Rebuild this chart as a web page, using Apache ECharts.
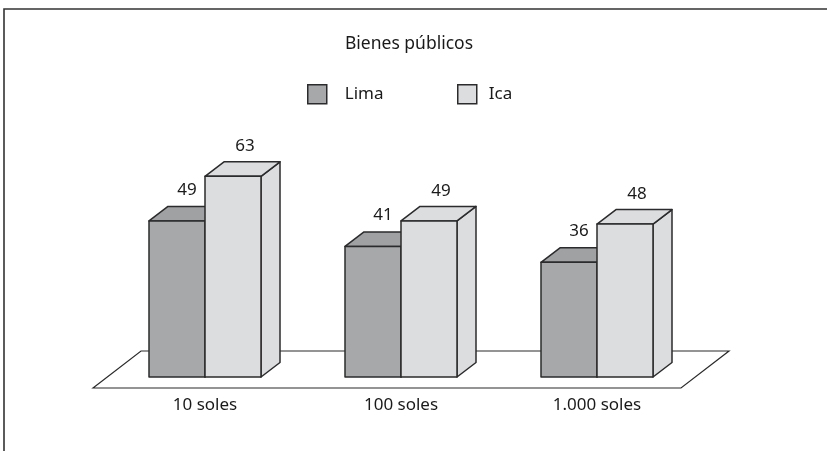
<!DOCTYPE html>
<html>
<head>
<meta charset="utf-8">
<style>
  html, body { margin: 0; padding: 0; background: #fff; }
  #main { width: 827px; height: 451px; }
</style>
<script src="https://cdn.jsdelivr.net/npm/echarts@6/dist/echarts.min.js"></script>
</head>
<body>
<div id="main"></div>
<script>
const categories = ['10 soles', '100 soles', '1.000 soles']
const lima = [49, 41, 36]
const ica = [63, 49, 48]

const FONT = '"Noto Sans", sans-serif'
const TEXT = '#1a1a1a'
const LINE = '#2b2b2d'
const DX = 19 // profundidad del falso 3D
const DY = 14.5
const BAR_RATIO = 56 / 196

function box(front, top, side, labelDx, labelDy, shift) {
  return function(params, api) {
    const c = api.coord([api.value(0), api.value(1)])
    const base = api.coord([api.value(0), 0])
    const w = api.size([1, 0])[0] * BAR_RATIO
    const x0 = c[0] + shift * w
    const x1 = x0 + w
    const y0 = c[1]
    const y1 = base[1]
    const stroke = { stroke: LINE, lineWidth: 1.5, lineJoin: 'round' }
    return {
      type: 'group',
      children: [
        { type: 'polygon', shape: { points: [[x1, y0], [x1 + DX, y0 - DY], [x1 + DX, y1 - DY], [x1, y1]] }, style: { fill: side, ...stroke } },
        { type: 'polygon', shape: { points: [[x0, y0], [x0 + DX, y0 - DY], [x1 + DX, y0 - DY], [x1, y0]] }, style: { fill: top, ...stroke } },
        { type: 'rect', shape: { x: x0, y: y0, width: w, height: y1 - y0 }, style: { fill: front, ...stroke } },
        { type: 'text', x: x0 + w / 2 + labelDx, y: y0 - labelDy, style: { text: String(api.value(1)), fill: TEXT, font: '17px ' + FONT, align: 'center', verticalAlign: 'middle' } }
      ]
    }
  }
}

function floor(params) {
  const g = params.coordSys
  const y = g.y + g.height
  const left = g.x - 14
  const right = g.x + g.width - 14
  return {
    type: 'polygon',
    shape: { points: [[left, y + 11], [left + 48, y - 26], [right + 48, y - 26], [right, y + 11]] },
    style: { fill: '#fff', stroke: LINE, lineWidth: 1.2 }
  }
}

const legendText = { color: TEXT, fontFamily: FONT, fontSize: 17 }
const legendBase = {
  top: 84, itemWidth: 19, itemHeight: 19, padding: 0, icon: 'rect',
  itemStyle: { borderColor: LINE, borderWidth: 1.5 }
}

const chart = echarts.init(document.getElementById('main'))
chart.setOption({
  animation: false,
  backgroundColor: '#fff',
  title: {
    text: 'Bienes públicos',
    left: 404,
    top: 30,
    textAlign: 'center',
    textStyle: { color: TEXT, fontFamily: FONT, fontWeight: 'normal', fontSize: 17.5 }
  },
  legend: [
    { ...legendBase, data: ['Lima'], left: 307, textStyle: { ...legendText, padding: [2, 0, 0, 13] } },
    { ...legendBase, data: ['Ica'], left: 457, textStyle: { ...legendText, padding: [2, 0, 0, 7] } }
  ],
  grid: { left: 107, width: 588, top: 154, height: 223 },
  xAxis: {
    type: 'category',
    data: categories,
    axisLine: { show: false },
    axisTick: { show: false },
    axisLabel: { color: TEXT, fontFamily: FONT, fontSize: 17, margin: 20 }
  },
  yAxis: { type: 'value', min: 0, max: 70, show: false },
  graphic: [{
    type: 'rect',
    silent: true,
    z: -1,
    shape: { x: 4, y: 9, width: 830, height: 450 },
    style: { fill: 'none', stroke: '#333', lineWidth: 1.6 }
  }],
  series: [
    { type: 'custom', name: 'floor', coordinateSystem: 'cartesian2d', data: [[0, 0]], renderItem: floor, silent: true, z: 1 },
    { type: 'custom', name: 'Lima', data: lima.map((v, i) => [i, v]), encode: { x: 0, y: 1 }, itemStyle: { color: '#a7a8aa' }, renderItem: box('#a7a8aa', '#a0a1a3', '#a7a8aa', 10, 31, -1), z: 2 },
    { type: 'custom', name: 'Ica', data: ica.map((v, i) => [i, v]), encode: { x: 0, y: 1 }, itemStyle: { color: '#dcddde' }, renderItem: box('#dcddde', '#dcddde', '#dcddde', 12, 30, 0), z: 3 }
  ]
})
</script>
</body>
</html>
